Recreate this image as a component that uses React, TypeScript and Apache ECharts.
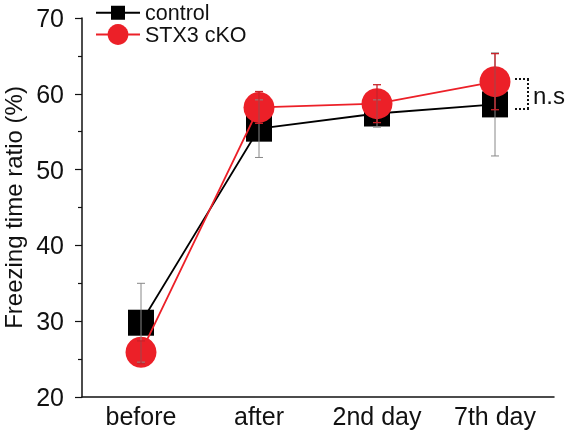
import React, { useEffect, useRef } from "react";
import * as echarts from "echarts";

const categories = ["before", "after", "2nd day", "7th day"];
const controlMean = [29.8, 55.4, 57.4, 58.6];
const controlErr = [5.2, 3.8, 1.8, 6.8];
const ckoMean = [25.9, 58.2, 58.7, 61.6];
const ckoErr = [1.5, 2.1, 2.5, 3.7];
const yTicks = [20, 30, 40, 50, 60, 70];

const RED = "#ec2028";
const FONT = "Liberation Sans, Arial, Helvetica, sans-serif";

function errorSeries(name: string, mean: number[], err: number[], color: string, width: number, z: number) {
  return {
    type: "custom",
    name: name + " err",
    z,
    silent: true,
    data: mean.map((m, i) => [i, m - err[i], m + err[i]]),
    renderItem: (params: any, api: any) => {
      const x = api.value(0);
      const lo = api.coord([x, api.value(1)]);
      const hi = api.coord([x, api.value(2)]);
      const cap = 4;
      const style = { stroke: color, lineWidth: width };
      return {
        type: "group",
        children: [
          { type: "line", shape: { x1: lo[0], y1: lo[1], x2: hi[0], y2: hi[1] }, style },
          { type: "line", shape: { x1: lo[0] - cap, y1: lo[1], x2: lo[0] + cap, y2: lo[1] }, style },
          { type: "line", shape: { x1: hi[0] - cap, y1: hi[1], x2: hi[0] + cap, y2: hi[1] }, style },
        ],
      };
    },
  };
}

export default function App() {
  const ref = useRef<HTMLDivElement>(null);
  useEffect(() => {
    if (!ref.current) return;
    const chart = echarts.init(ref.current, undefined, { renderer: "svg" });
    chart.setOption({
      animation: false,
      textStyle: { fontFamily: FONT },
      grid: { left: 82, right: 12, top: 18, bottom: 43, outerBoundsMode: "none", containLabel: false },
      legend: [
        {
          data: ["control"],
          left: 95,
          top: 1.75,
          itemWidth: 44,
          itemHeight: 17.5,
          padding: 0,
          textStyle: { fontSize: 21.5, color: "#111", fontFamily: FONT },
        },
        {
          data: ["STX3 cKO"],
          left: 95,
          top: 23.5,
          itemWidth: 44,
          itemHeight: 26,
          padding: 0,
          textStyle: { fontSize: 21.5, color: "#111", fontFamily: FONT },
        },
      ],
      xAxis: {
        type: "category",
        data: categories,
        boundaryGap: true,
        axisLine: { lineStyle: { color: "#111", width: 1.5 } },
        axisTick: { alignWithLabel: true, length: 6, lineStyle: { color: "#111", width: 1.2 } },
        axisLabel: { fontSize: 25, color: "#111", margin: 6, fontFamily: FONT },
      },
      yAxis: {
        type: "value",
        min: yTicks[0],
        max: yTicks[yTicks.length - 1],
        interval: 10,
        name: "Freezing time ratio (%)",
        nameLocation: "middle",
        nameGap: 55,
        nameTextStyle: { fontSize: 24, color: "#111", fontFamily: FONT },
        axisLine: { show: true, lineStyle: { color: "#111", width: 1.5 } },
        axisTick: { show: true, length: 7, lineStyle: { color: "#111", width: 1.2 } },
        minorTick: { show: true, splitNumber: 2, length: 4, lineStyle: { color: "#111", width: 1.2 } },
        splitLine: { show: false },
        axisLabel: { fontSize: 25, color: "#111", margin: 18, fontFamily: FONT },
      },
      series: [
        {
          name: "control",
          type: "line",
          data: controlMean,
          symbol: "rect",
          symbolSize: 26,
          z: 2,
          lineStyle: { color: "#000", width: 1.8 },
          itemStyle: { color: "#000" },
        },
        {
          name: "STX3 cKO",
          type: "line",
          data: ckoMean,
          symbol: "circle",
          symbolSize: 31,
          z: 3,
          lineStyle: { color: RED, width: 1.8 },
          itemStyle: { color: RED },
        },
        errorSeries("control", controlMean, controlErr, "#888", 1, 5),
        errorSeries("STX3 cKO", ckoMean, ckoErr, "#c9232a", 1.3, 6),
      ],
      graphic: [
        { type: "line", shape: { x1: 515, y1: 79, x2: 529, y2: 79 }, style: { stroke: "#111", lineWidth: 2, lineDash: [2, 2] } },
        { type: "line", shape: { x1: 515, y1: 109, x2: 529, y2: 109 }, style: { stroke: "#111", lineWidth: 2, lineDash: [2, 2] } },
        { type: "line", shape: { x1: 528, y1: 79, x2: 528, y2: 109 }, style: { stroke: "#111", lineWidth: 2, lineDash: [2, 2] } },
        {
          type: "text",
          x: 533,
          y: 95,
          style: { text: "n.s", fontSize: 24, fill: "#111", fontFamily: FONT, verticalAlign: "middle", align: "left" },
        },
      ],
    });
    return () => chart.dispose();
  }, []);
  return <div ref={ref} style={{ width: 566, height: 440, position: "fixed", left: 0, top: 0 }} />;
}
